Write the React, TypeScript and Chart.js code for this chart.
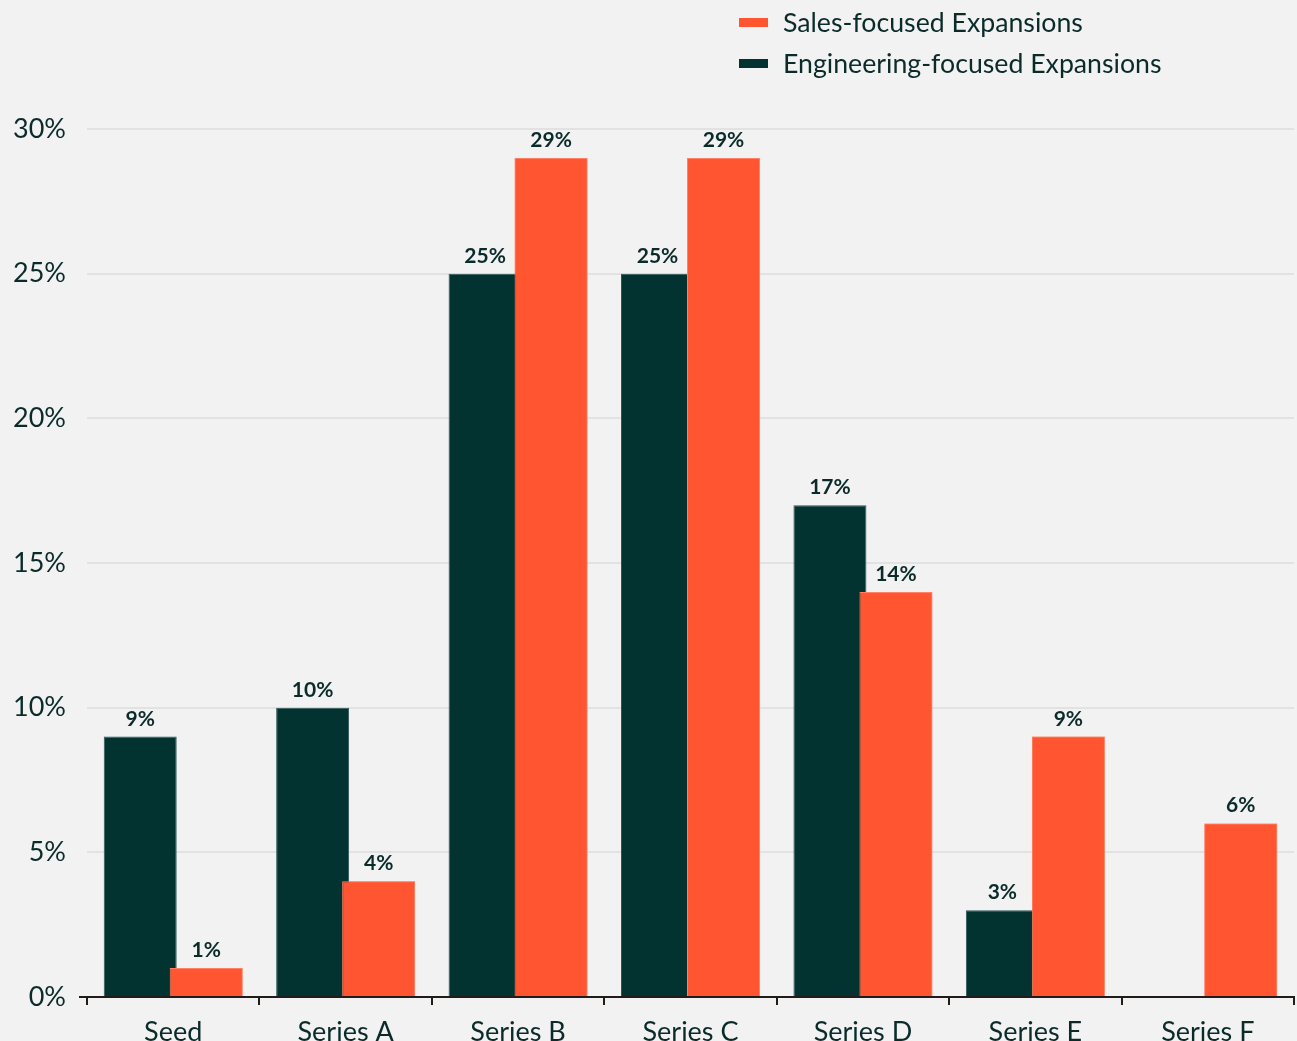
import { useEffect, useRef } from "react";
import { Chart, registerables } from "chart.js";

Chart.register(...registerables);

const categories = ["Seed", "Series A", "Series B", "Series C", "Series D", "Series E", "Series F"];
const engineeringValues = [9, 10, 25, 25, 17, 3, 0];
const salesValues = [1, 4, 29, 29, 14, 9, 6];
const seriesNames = ["Sales-focused Expansions", "Engineering-focused Expansions"];
const yTickValues = [0, 5, 10, 15, 20, 25, 30];

const DARK = "#023331";
const DARK_EDGE = "#2f5655";
const ORANGE = "#FF5530";
const ORANGE_EDGE = "#ff8064";
const TEXT = "#0b2b2b";
const AXIS = "#231a1a";
const GRID = "#e2e2e2";
const BG = "#f2f2f2";

const topOrangePlugin = {
  id: "topOrangeAndLabels",
  afterDatasetsDraw(chart: any) {
    const ctx = chart.ctx;
    // redraw the sales (orange) bars on top of engineering bars
    const salesMeta = chart.getDatasetMeta(1);
    ctx.save();
    salesMeta.controller.draw();
    ctx.restore();
    ctx.save();
    ctx.font = "bold 21px Lato";
    ctx.fillStyle = TEXT;
    ctx.textAlign = "center";
    ctx.textBaseline = "alphabetic";
    chart.data.datasets.forEach((ds: any, di: number) => {
      const meta = chart.getDatasetMeta(di);
      meta.data.forEach((el: any, i: number) => {
        const v = ds.data[i];
        if (!v) return;
        ctx.fillText(v + "%", el.x, el.y - 11);
      });
    });
    ctx.restore();
  },
  afterDraw(chart: any) {
    const ctx = chart.ctx;
    ctx.save();
    ctx.font = "26.7px Lato";
    ctx.textBaseline = "alphabetic";
    ctx.textAlign = "left";
    const items = [
      { name: seriesNames[0], color: ORANGE, box: 22.5, base: 32 },
      { name: seriesNames[1], color: DARK, box: 63.5, base: 72.5 },
    ];
    items.forEach((it) => {
      ctx.fillStyle = it.color;
      ctx.fillRect(739, it.box - 4.5, 29, 9);
      ctx.fillStyle = TEXT;
      ctx.fillText(it.name, 783, it.base);
    });
    ctx.restore();
  },
};

export default function App() {
  const ref = useRef<HTMLCanvasElement | null>(null);
  useEffect(() => {
    document.body.style.margin = "0";
    document.body.style.background = BG;
    const canvas = ref.current!;
    const chart = new Chart(canvas, {
      type: "bar",
      data: {
        labels: categories,
        datasets: [
          {
            label: seriesNames[1],
            data: engineeringValues,
            backgroundColor: DARK,
            borderColor: DARK_EDGE,
            borderWidth: 1,
            categoryPercentage: 0.7655,
            barPercentage: 1.106,
          },
          {
            label: seriesNames[0],
            data: salesValues,
            backgroundColor: ORANGE,
            borderColor: ORANGE_EDGE,
            borderWidth: 1,
            categoryPercentage: 0.7655,
            barPercentage: 1.106,
          },
        ],
      },
      options: {
        responsive: false,
        animation: false,
        devicePixelRatio: 1,
        layout: { padding: { top: 129, right: 3, left: 0, bottom: 0 } },
        plugins: {
          legend: { display: false },
          tooltip: { enabled: false },
        },
        scales: {
          x: {
            grid: {
              display: true,
              drawOnChartArea: false,
              drawTicks: true,
              tickLength: 8,
              color: AXIS,
              lineWidth: 2,
              offset: true,
            },
            border: { display: true, color: AXIS, width: 2 },
            ticks: { color: TEXT, font: { family: "Lato", size: 27 }, padding: 11, maxRotation: 0 },
            afterFit: (s: any) => {
              s.height = 44;
            },
          },
          y: {
            min: 0,
            max: 30,
            afterBuildTicks: (s: any) => {
              s.ticks = yTickValues.map((v) => ({ value: v }));
            },
            grid: {
              color: (c: any) => (c.tick && c.tick.value === 0 ? AXIS : GRID),
              tickColor: (c: any) => (c.tick && c.tick.value === 0 ? AXIS : "rgba(0,0,0,0)"),
              lineWidth: 2,
              tickLength: 8,
              drawTicks: true,
            },
            border: { display: false },
            ticks: {
              color: TEXT,
              font: { family: "Lato", size: 27 },
              padding: 13,
              callback: (v: any) => v + "%",
            },
            afterFit: (s: any) => {
              s.width = 87;
            },
          },
        },
      },
      plugins: [topOrangePlugin],
    });
    return () => chart.destroy();
  }, []);
  return (
    <canvas
      ref={ref}
      width={1297}
      height={1041}
      style={{ display: "block", width: 1297, height: 1041, background: BG }}
    />
  );
}
